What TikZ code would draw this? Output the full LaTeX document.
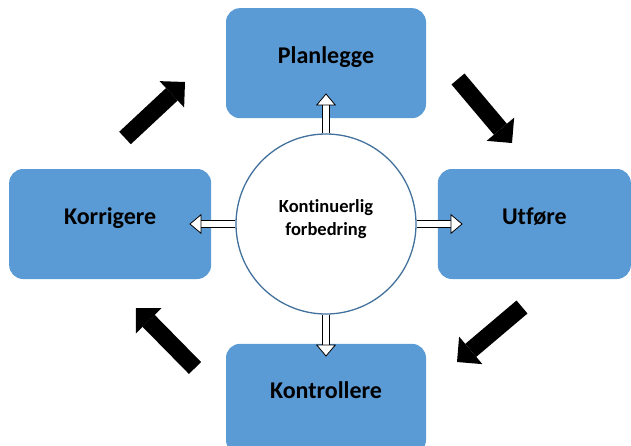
\documentclass[tikz,border=0pt]{standalone}
\usepackage{fontspec}
\setmainfont{Carlito}[Ligatures=NoCommon]
\usetikzlibrary{positioning,shapes,arrows.meta}
\definecolor{phaseblue}{HTML}{5B9BD5}
\definecolor{ringblue}{HTML}{41719C}
\tikzstyle{phase} = [rectangle, rounded corners=14pt, fill=phaseblue, minimum height=110pt, text height=16pt, text depth=16pt, font=\fontsize{24}{28}\selectfont\bfseries]
\tikzstyle{ring} = [circle, draw=ringblue, line width=1.3pt, fill=white, minimum size=180pt, inner sep=0pt, font=\fontsize{18.5}{23}\selectfont\bfseries]
\tikzstyle{hollow} = [draw=black, line width=0.8pt, double=white, double distance=6.4pt, -{Triangle[width=20pt,length=12pt,line width=0.8pt,fill=white]}]
\tikzstyle{bigarrow} = [line width=17pt, -{Triangle[width=36pt,length=18pt,line width=0pt]}]

\begin{document}
\begin{tikzpicture}[x=1pt,y=-1pt]
			\useasboundingbox (0,0) rectangle (631,445);
			\node (core) [ring] at (326,224) {\raisebox{0pt}[0pt][0pt]{\begin{tabular}{c}Kontinuerlig\\forbedring\end{tabular}}};
			\node (plan) [phase,minimum width=200pt,above=15pt of core] {Planlegge};
			\node (utf) [phase,minimum width=193pt,right=21pt of core] {Utføre};
			\node (kontr) [phase,minimum width=200pt,below=29pt of core] {Kontrollere};
			\node (korr) [phase,minimum width=202pt,left=24pt of core] {Korrigere};
			%-----------------------------------------------
			\coordinate (korr-out) at (125,138);
			\coordinate (plan-in) at (185,82);
			\coordinate (plan-out) at (458,79);
			\coordinate (utf-in) at (512,143);
			\coordinate (utf-out) at (522,307);
			\coordinate (kontr-in) at (457,362);
			\coordinate (kontr-out) at (195,368);
			\coordinate (korr-in) at (136,308);
			%-----------------------------------------------
			\draw [hollow,shorten >=-25pt] (core) -- (plan);
			\draw [hollow,shorten >=-25pt] (core) -- (utf);
			\draw [hollow,shorten >=-13pt] (core) -- (kontr);
			\draw [hollow,shorten >=-22pt] (core) -- (korr);
			\draw [bigarrow] (korr-out) -- (plan-in);
			\draw [bigarrow] (plan-out) -- (utf-in);
			\draw [bigarrow] (utf-out) -- (kontr-in);
			\draw [bigarrow] (kontr-out) -- (korr-in);
\end{tikzpicture}
\end{document}
